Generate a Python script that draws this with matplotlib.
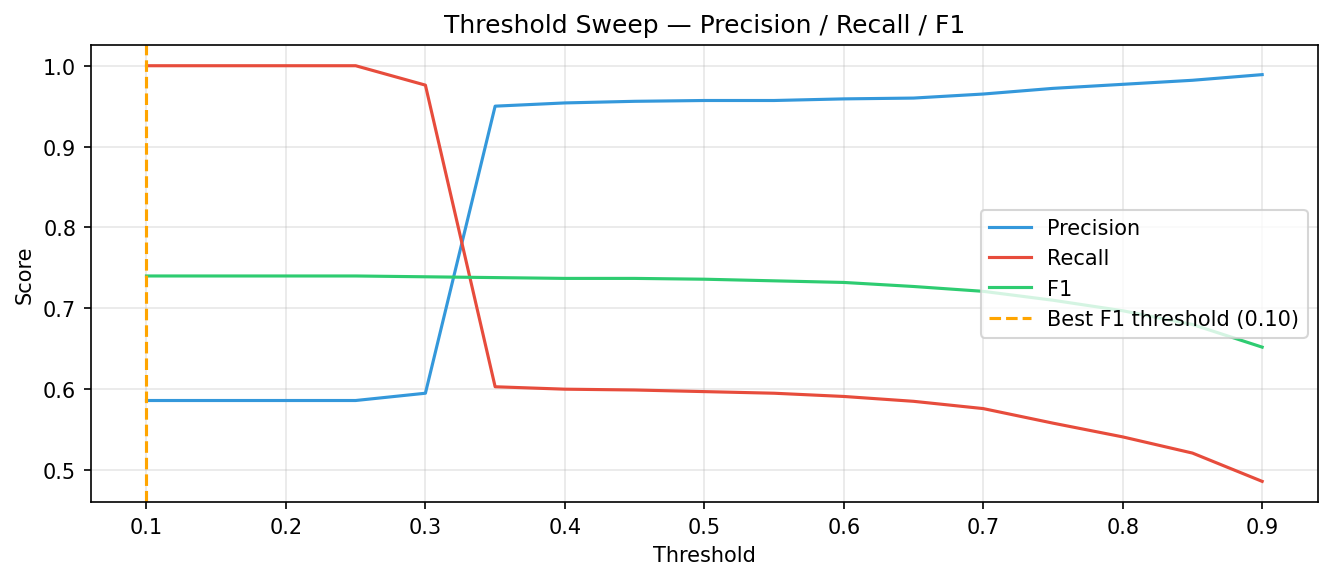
import matplotlib
matplotlib.use("Agg")
from matplotlib import pyplot as plt

thresholds = [0.10, 0.15, 0.20, 0.25, 0.30, 0.35, 0.40, 0.45, 0.50,
              0.55, 0.60, 0.65, 0.70, 0.75, 0.80, 0.85, 0.90]
precision = [0.586, 0.586, 0.586, 0.586, 0.595, 0.950, 0.954, 0.956, 0.957,
             0.957, 0.959, 0.960, 0.965, 0.972, 0.977, 0.982, 0.989]
recall = [1.000, 1.000, 1.000, 1.000, 0.976, 0.603, 0.600, 0.599, 0.597,
          0.595, 0.591, 0.585, 0.576, 0.558, 0.541, 0.521, 0.486]
f1 = [0.740, 0.740, 0.740, 0.740, 0.739, 0.738, 0.737, 0.737, 0.736,
      0.734, 0.732, 0.727, 0.721, 0.710, 0.697, 0.680, 0.652]
best_threshold = 0.10

fig, ax = plt.subplots(figsize=(8.893, 3.873), dpi=150)
ax.plot(thresholds, precision, color='#3498db', label='Precision')
ax.plot(thresholds, recall, color='#e74c3c', label='Recall')
ax.plot(thresholds, f1, color='#2ecc71', label='F1')
ax.axvline(best_threshold, color='orange', ls='--',
           label=f'Best F1 threshold ({best_threshold:.2f})')
ax.set_xlabel('Threshold')
ax.set_ylabel('Score')
ax.set_title('Threshold Sweep — Precision / Recall / F1')
ax.legend(loc='center right')
ax.grid(True, alpha=0.3)
fig.subplots_adjust(left=0.068, right=0.988, top=0.921, bottom=0.134)
fig.savefig('out.png')
